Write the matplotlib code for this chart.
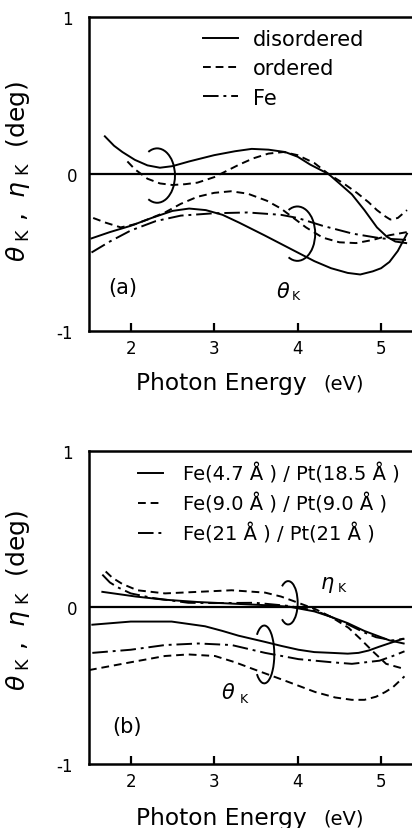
import matplotlib
matplotlib.use("Agg")
import matplotlib.pyplot as plt
from matplotlib.patches import Arc
from matplotlib.transforms import ScaledTranslation

plt.rcParams['font.family'] = ['DejaVu Sans']
plt.rcParams['mathtext.fontset'] = 'dejavusans'

# ---- panel (a): FePt disordered / ordered and Fe ----
a_eta_dis_x = [1.69, 1.8, 1.9, 2.05, 2.2, 2.35, 2.5, 2.7, 3.0, 3.25, 3.45, 3.65, 3.85, 4.0, 4.15, 4.37, 4.5, 4.65, 4.8, 4.95, 5.07, 5.17, 5.3]
a_eta_dis_y = [0.24, 0.18, 0.14, 0.09, 0.055, 0.04, 0.05, 0.08, 0.12, 0.145, 0.16, 0.155, 0.14, 0.11, 0.06, 0.0, -0.06, -0.13, -0.23, -0.34, -0.40, -0.43, -0.44]
a_eta_ord_x = [1.96, 2.05, 2.2, 2.35, 2.5, 2.65, 2.8, 3.0, 3.15, 3.3, 3.47, 3.65, 3.83, 4.0, 4.2, 4.37, 4.55, 4.71, 4.85, 4.95, 5.05, 5.11, 5.2, 5.31]
a_eta_ord_y = [0.08, 0.03, -0.03, -0.06, -0.07, -0.065, -0.055, -0.02, 0.02, 0.06, 0.10, 0.13, 0.14, 0.12, 0.07, 0.0, -0.06, -0.12, -0.18, -0.23, -0.27, -0.29, -0.28, -0.23]
a_th_dis_x = [1.53, 1.75, 2.0, 2.25, 2.5, 2.7, 2.9, 3.1, 3.3, 3.6, 4.0, 4.2, 4.4, 4.6, 4.75, 4.9, 5.0, 5.1, 5.2, 5.31]
a_th_dis_y = [-0.41, -0.37, -0.33, -0.28, -0.235, -0.22, -0.23, -0.26, -0.31, -0.39, -0.50, -0.555, -0.60, -0.63, -0.64, -0.62, -0.60, -0.56, -0.49, -0.38]
a_th_ord_x = [1.55, 1.7, 1.88, 2.05, 2.2, 2.41, 2.6, 2.8, 3.0, 3.2, 3.4, 3.63, 3.8, 3.95, 4.1, 4.3, 4.5, 4.7, 4.9, 5.1, 5.31]
a_th_ord_y = [-0.28, -0.31, -0.34, -0.32, -0.29, -0.245, -0.19, -0.145, -0.12, -0.11, -0.125, -0.17, -0.22, -0.28, -0.34, -0.405, -0.435, -0.44, -0.42, -0.39, -0.37]
a_fe_x = [1.53, 1.75, 2.0, 2.3, 2.6, 3.0, 3.4, 3.8, 4.0, 4.3, 4.66, 5.0, 5.31]
a_fe_y = [-0.50, -0.43, -0.36, -0.30, -0.265, -0.25, -0.245, -0.26, -0.28, -0.33, -0.38, -0.41, -0.42]
a_labels = ['disordered', 'ordered', 'Fe']

# ---- panel (b): Fe/Pt multilayers ----
b_eta_1_x = [1.66, 2.06, 2.4, 2.8, 3.2, 3.6, 3.9, 4.2, 4.4, 4.6, 4.8, 4.95, 5.1, 5.27]
b_eta_1_y = [0.10, 0.07, 0.05, 0.035, 0.025, 0.015, 0.005, -0.025, -0.06, -0.10, -0.15, -0.18, -0.21, -0.23]
b_eta_2_x = [1.70, 1.78, 1.9, 2.08, 2.41, 2.81, 3.21, 3.61, 3.8, 3.93, 4.21, 4.4, 4.61, 4.75, 4.9, 5.06, 5.26]
b_eta_2_y = [0.23, 0.19, 0.15, 0.11, 0.09, 0.10, 0.11, 0.095, 0.07, 0.045, -0.01, -0.06, -0.13, -0.20, -0.28, -0.36, -0.39]
b_eta_3_x = [1.66, 1.75, 1.84, 2.0, 2.27, 2.69, 3.0, 3.49, 3.89, 4.21, 4.4, 4.61, 4.8, 4.94, 5.14, 5.28]
b_eta_3_y = [0.21, 0.16, 0.13, 0.09, 0.06, 0.03, 0.028, 0.03, 0.01, -0.02, -0.06, -0.11, -0.16, -0.19, -0.21, -0.20]
b_th_1_x = [1.54, 2.0, 2.49, 2.89, 3.1, 3.29, 3.45, 3.61, 3.8, 4.01, 4.2, 4.41, 4.6, 4.73, 4.85, 4.98, 5.12, 5.26]
b_th_1_y = [-0.11, -0.09, -0.09, -0.12, -0.15, -0.18, -0.20, -0.22, -0.245, -0.27, -0.285, -0.29, -0.295, -0.29, -0.275, -0.25, -0.225, -0.20]
b_th_2_x = [1.5, 1.75, 2.0, 2.41, 2.69, 3.01, 3.25, 3.45, 3.81, 4.21, 4.45, 4.65, 4.8, 4.94, 5.05, 5.14, 5.28]
b_th_2_y = [-0.40, -0.375, -0.35, -0.31, -0.30, -0.31, -0.35, -0.39, -0.46, -0.54, -0.575, -0.59, -0.59, -0.57, -0.54, -0.51, -0.44]
b_th_3_x = [1.54, 2.0, 2.41, 2.81, 3.21, 3.61, 4.01, 4.41, 4.65, 4.98, 5.14, 5.28]
b_th_3_y = [-0.29, -0.27, -0.24, -0.23, -0.24, -0.29, -0.33, -0.35, -0.36, -0.34, -0.31, -0.28]
b_labels = ['Fe(4.7 Å ) / Pt(18.5 Å )',
            'Fe(9.0 Å ) / Pt(9.0 Å )',
            'Fe(21 Å ) / Pt(21 Å )']

xticks = [2, 3, 4, 5]
yticks = [-1, 0, 1]
ytick_labels = ['-1', '0', '1']

# bracket arcs: (rightmost x, end x, centre y, half height)
a_brackets = [(2.53, 2.21, -0.01, 0.15), (4.21, 3.89, -0.38, 0.15)]
b_brackets = [(4.0, 3.83, 0.03, 0.12), (3.72, 3.54, -0.30, 0.16)]

lw = 1.4
dash = (0, (4, 2.5))
dashdot = (0, (8, 2.5, 1.5, 2.5))


def bracket(ax, xr, xl, yc, h):
    # ")" shaped bracket cut from an ellipse
    a = (xr - xl) / 1.5
    b = h / 0.866
    ax.add_patch(Arc((xr - a, yc), 2 * a, 2 * b, theta1=-125, theta2=125,
                     color='black', lw=lw))


def setup(ax):
    ax.set_xlim(1.5, 5.37)
    ax.set_ylim(-1, 1)
    ax.axhline(0, color='black', lw=1.6)
    ax.spines['right'].set_visible(False)
    for s in ['left', 'bottom', 'top']:
        ax.spines[s].set_linewidth(1.8)
    ax.set_xticks(xticks)
    ax.set_yticks(yticks)
    ax.set_yticklabels(ytick_labels)
    ax.tick_params(axis='x', direction='in', length=6, width=1.6, labelsize=12, pad=6)
    ax.tick_params(axis='y', length=0, labelsize=12, pad=12)
    # the "0" sits closer to the axis in the original
    for t in ax.get_yticklabels():
        if t.get_text() == '0':
            t.set_transform(t.get_transform() + ScaledTranslation(5 / 100, 0, fig.dpi_scale_trans))
    ax.set_ylabel(r'$\theta_{\rm \ K}$ ,  $\eta_{\rm \ K}$  (deg)', fontsize=18)


fig = plt.figure(figsize=(4.12, 8.29), dpi=100)
ax1 = fig.add_axes([0.216, 0.5995, 0.784, 0.3788])
ax2 = fig.add_axes([0.216, 0.0772, 0.784, 0.3776])

# panel (a)
setup(ax1)
l1, = ax1.plot(a_eta_dis_x, a_eta_dis_y, color='black', lw=lw, linestyle='-')
l2, = ax1.plot(a_eta_ord_x, a_eta_ord_y, color='black', lw=lw, linestyle=dash)
ax1.plot(a_th_dis_x, a_th_dis_y, color='black', lw=lw, linestyle='-')
ax1.plot(a_th_ord_x, a_th_ord_y, color='black', lw=lw, linestyle=dash)
l3, = ax1.plot(a_fe_x, a_fe_y, color='black', lw=lw, linestyle=dashdot)
for br in a_brackets:
    bracket(ax1, *br)
ax1.legend([l1, l2, l3], a_labels, loc='upper left', bbox_to_anchor=(0.353, 0.962),
           frameon=False, fontsize=15, handlelength=1.68, handletextpad=0.72,
           labelspacing=0.45, borderpad=0, borderaxespad=0)
ax1.text(1.91, -0.72, '(a)', fontsize=15, ha='center', va='center')
ax1.text(3.83, -0.745, r'$\theta$', fontsize=15, ha='center', va='center')
ax1.text(3.98, -0.775, 'K', fontsize=9, ha='center', va='center')
ax1.yaxis.set_label_coords(-0.176, 0.51)

# panel (b)
setup(ax2)
m1, = ax2.plot(b_eta_1_x, b_eta_1_y, color='black', lw=lw, linestyle='-')
m2, = ax2.plot(b_eta_2_x, b_eta_2_y, color='black', lw=lw, linestyle=dash)
m3, = ax2.plot(b_eta_3_x, b_eta_3_y, color='black', lw=lw, linestyle=dashdot)
ax2.plot(b_th_1_x, b_th_1_y, color='black', lw=lw, linestyle='-')
ax2.plot(b_th_2_x, b_th_2_y, color='black', lw=lw, linestyle=dash)
ax2.plot(b_th_3_x, b_th_3_y, color='black', lw=lw, linestyle=dashdot)
for br in b_brackets:
    bracket(ax2, *br)
ax2.legend([m1, m2, m3], b_labels, loc='upper left', bbox_to_anchor=(0.152, 0.962),
           frameon=False, fontsize=14, handlelength=1.3, handletextpad=1.0,
           labelspacing=0.45, borderpad=0, borderaxespad=0)
ax2.text(1.96, -0.76, '(b)', fontsize=15, ha='center', va='center')
ax2.text(3.17, -0.54, r'$\theta$', fontsize=15, ha='center', va='center')
ax2.text(3.35, -0.58, 'K', fontsize=9, ha='center', va='center')
ax2.text(4.36, 0.15, r'$\eta$', fontsize=15, ha='center', va='center')
ax2.text(4.53, 0.13, 'K', fontsize=9, ha='center', va='center')
ax2.yaxis.set_label_coords(-0.176, 0.527)

# x labels: "Photon Energy" with smaller "(eV)"
for yb in [1 - 390 / 829, 1 - 825 / 829]:
    fig.text(136 / 412, yb, 'Photon Energy', fontsize=16.8, ha='left', va='baseline')
    fig.text(323 / 412, yb, '(eV)', fontsize=14, ha='left', va='baseline')

fig.savefig('out.png', dpi=100)
